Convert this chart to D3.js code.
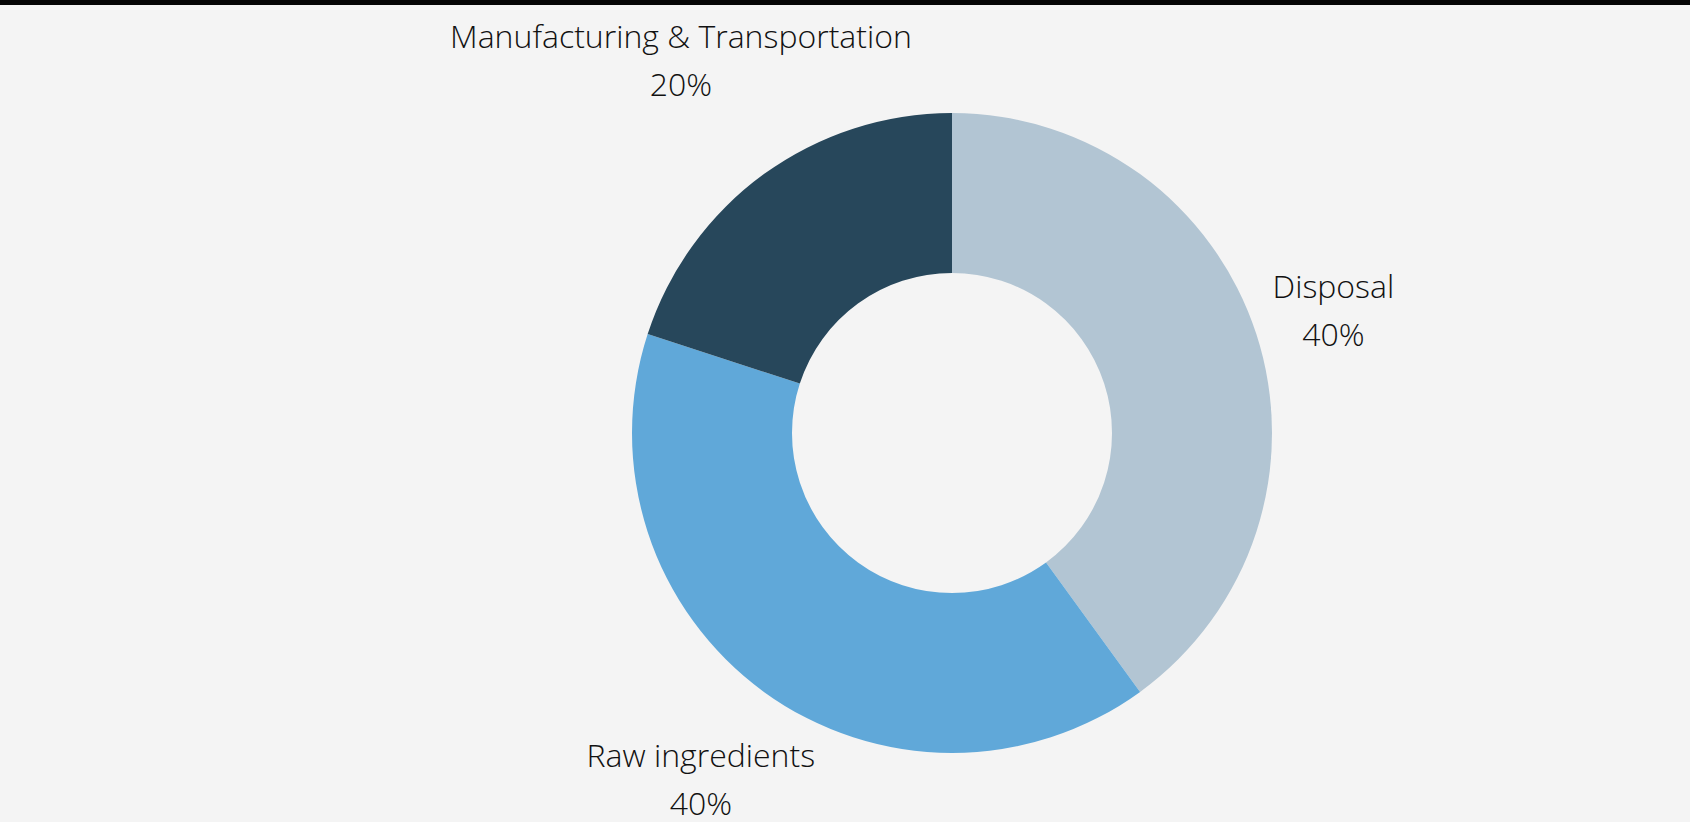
<!DOCTYPE html>
<html>
<head>
<meta charset="utf-8">
<script src="https://cdn.jsdelivr.net/npm/d3@7"></script>
<style>
  html, body { margin: 0; padding: 0; background: #f4f4f4; }
  svg { display: block; }
  .slice-label { font-family: "Open Sans", Lato, sans-serif; font-weight: 300; font-size: 32px; fill: #111; }
</style>
</head>
<body>
<svg id="chart" width="1690" height="822"></svg>
<script>
// Share of emissions by life-cycle stage
const categories = ["Disposal", "Raw ingredients", "Manufacturing & Transportation"];
const shares = [40, 40, 20];
const colors = ["#b2c5d3", "#60a8d9", "#27475b"];

const width = 1690, height = 822;
const cx = 952, cy = 433;
const outerR = 320, innerR = 160;
const labelGap = 10;

const svg = d3.select("#chart");

svg.append("rect").attr("width", width).attr("height", height).attr("fill", "#f4f4f4");
svg.append("rect").attr("x", 0).attr("y", 0).attr("width", width).attr("height", 5).attr("fill", "#050505");

const data = categories.map((c, i) => ({ name: c, value: shares[i], color: colors[i] }));

const pie = d3.pie().sort(null).value(d => d.value);
const arc = d3.arc().innerRadius(innerR).outerRadius(outerR);
const arcs = pie(data);

const g = svg.append("g").attr("transform", `translate(${cx},${cy})`);

g.selectAll("path.slice")
  .data(arcs)
  .join("path")
  .attr("class", "slice")
  .attr("d", arc)
  .attr("fill", d => d.data.color);

// Labels: two-line text pushed outward along the slice's mid-angle
// until its bounding box clears the ring by labelGap.
const total = d3.sum(shares);
const labels = g.selectAll("text.slice-label")
  .data(arcs)
  .join("text")
  .attr("class", "slice-label")
  .attr("text-anchor", "middle");

labels.append("tspan").attr("x", 0).attr("y", 0).text(d => d.data.name);
labels.append("tspan").attr("x", 0).attr("y", 48).text(d => Math.round(d.data.value / total * 100) + "%");

labels.each(function(d) {
  const bb = this.getBBox();
  const bcx = bb.x + bb.width / 2, bcy = bb.y + bb.height / 2;
  const a = (d.startAngle + d.endAngle) / 2;
  const vx = Math.sin(a), vy = -Math.cos(a);
  const clearance = dist => {
    const x0 = vx * dist - bb.width / 2, x1 = vx * dist + bb.width / 2;
    const y0 = vy * dist - bb.height / 2, y1 = vy * dist + bb.height / 2;
    const px = Math.max(x0, Math.min(0, x1));
    const py = Math.max(y0, Math.min(0, y1));
    return Math.hypot(px, py);
  };
  let lo = 0, hi = outerR * 3;
  for (let k = 0; k < 60; k++) {
    const mid = (lo + hi) / 2;
    if (clearance(mid) < outerR + labelGap) lo = mid; else hi = mid;
  }
  const tx = vx * hi - bcx, ty = vy * hi - bcy;
  d3.select(this).attr("transform", `translate(${tx},${ty})`);
});
</script>
</body>
</html>
